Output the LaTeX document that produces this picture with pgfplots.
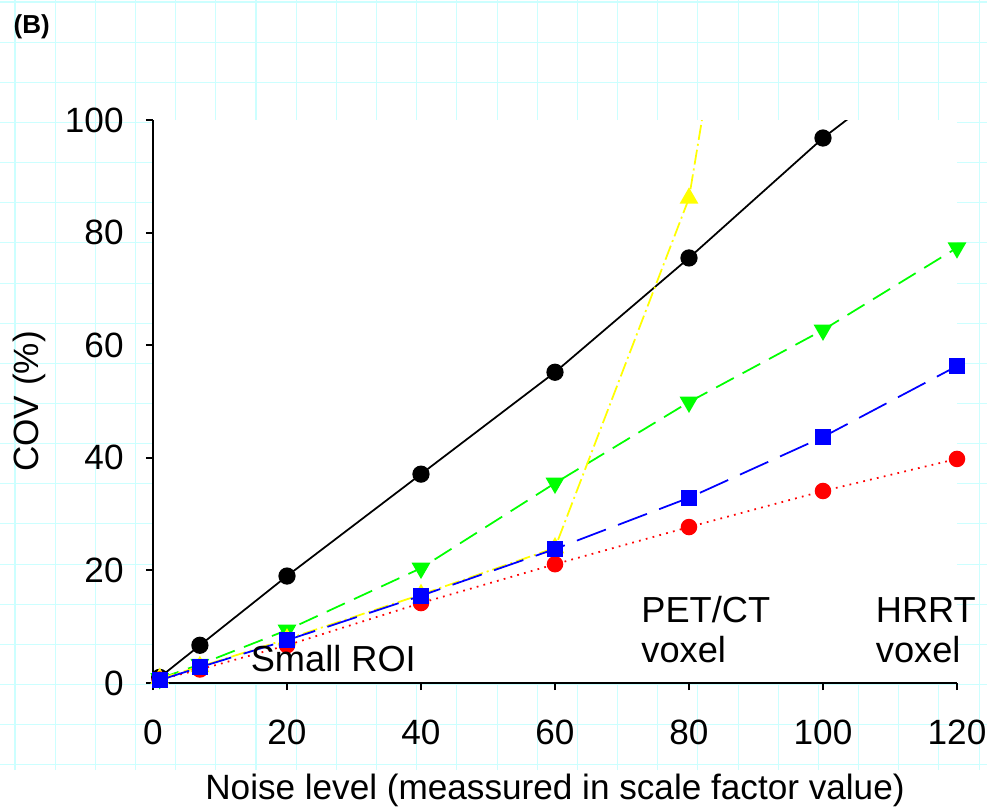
\documentclass[border=0pt]{standalone}
\usepackage{fontspec}
\setmainfont{Liberation Sans}
\usepackage{pgfplots}
\pgfplotsset{compat=1.18}
\definecolor{paper}{RGB}{204,255,255}
\definecolor{cgreen}{RGB}{0,255,0}
\definecolor{cyellow}{RGB}{255,255,0}
\definecolor{cblue}{RGB}{0,0,255}
\definecolor{cred}{RGB}{255,0,0}

\begin{document}
\begin{tikzpicture}
\useasboundingbox (0,0) rectangle (10.06,8.07);
% graph paper behind everything
\foreach \i in {0,...,24}
  \draw[paper, line width=0.3pt] ({0.15+0.4017*\i},0.37) -- ++(0,7.70);
\foreach \j in {0,...,19}
  \draw[paper, line width=0.3pt] (0,{8.05-0.4015*\j}) -- ++(9.87,0);
\node[anchor=base west, inner sep=0, font=\bfseries\fontsize{7.4}{9}\selectfont] at (0.13,7.74) {(B)};

\begin{axis}[
  at={(1.53cm,1.24cm)}, anchor=south west,
  scale only axis, width=8.04cm, height=5.63cm,
  xmin=0, xmax=120, ymin=0, ymax=100,
  clip mode=individual,
  axis x line*=bottom, axis y line*=left,
  axis line style={line width=0.6pt},
  xtick={0,20,...,120}, ytick={0,20,...,100},
  tick align=outside, major tick length=0.7mm,
  tick style={line width=0.6pt, black},
  axis background/.style={fill=white},
  /pgf/number format/assume math mode=true,
  tick label style={font=\fontsize{10}{12}\selectfont},
  xticklabel style={yshift=-1.8mm},
  yticklabel style={xshift=-1mm},
  label style={font=\fontsize{10}{12}\selectfont},
  xlabel={Noise level (meassured in scale factor value)},
  ylabel={COV (\%)},
  xlabel style={at={(axis description cs:0.5,-0.2078)}, anchor=base},
  ylabel style={at={(axis description cs:-0.154,0.5)}, anchor=center},
]
% whole ROI
\addplot[black, line width=0.5pt, mark=*, mark size=2.2pt]
  coordinates {(1,1.0)(7,6.7)(20,19.0)(40,37.1)(60,55.2)(80,75.5)(100,96.8)(120,115)};
\addplot[cgreen, line width=0.5pt, dash pattern=on 2mm off 1mm,
  mark=triangle*, mark size=2.6pt, mark options={solid, rotate=180}]
  coordinates {(1,0.8)(7,3.3)(20,9.4)(40,20.4)(60,35.5)(80,49.9)(100,62.7)(120,77.3)};
\addplot[cyellow, line width=0.5pt, dash pattern=on 1.5mm off 0.4mm on 0.2mm off 0.4mm,
  mark=triangle*, mark size=2.6pt, mark options={solid}]
  coordinates {(1,0.8)(7,2.9)(20,7.8)(40,15.7)(60,24.0)(80,86.1)(100,230)};
\addplot[cred, line width=0.5pt, dash pattern=on 0.5pt off 1.5pt,
  mark=*, mark size=2.1pt, mark options={solid}]
  coordinates {(1,0.6)(7,2.4)(20,6.7)(40,14.2)(60,21.1)(80,27.7)(100,34.1)(120,39.8)};
\addplot[cblue, line width=0.5pt, dash pattern=on 3.1mm off 1.3mm,
  mark=square*, mark size=2pt, mark options={solid}]
  coordinates {(1,0.5)(7,2.8)(20,7.6)(40,15.5)(60,23.8)(80,32.9)(100,43.7)(120,56.3)};

\node[anchor=base west, inner sep=0, font=\fontsize{10.3}{12}\selectfont] at (axis cs:14.5,2.0) {Small ROI};
\node[anchor=base west, inner sep=0, font=\fontsize{10.3}{12}\selectfont] at (axis cs:72.8,10.8) {PET/CT};
\node[anchor=base west, inner sep=0, font=\fontsize{10.3}{12}\selectfont] at (axis cs:72.8,3.7) {voxel};
\node[anchor=base west, inner sep=0, font=\fontsize{10.3}{12}\selectfont] at (axis cs:107.8,10.8) {HRRT};
\node[anchor=base west, inner sep=0, font=\fontsize{10.3}{12}\selectfont] at (axis cs:107.8,3.7) {voxel};
\end{axis}
\end{tikzpicture}
\end{document}
